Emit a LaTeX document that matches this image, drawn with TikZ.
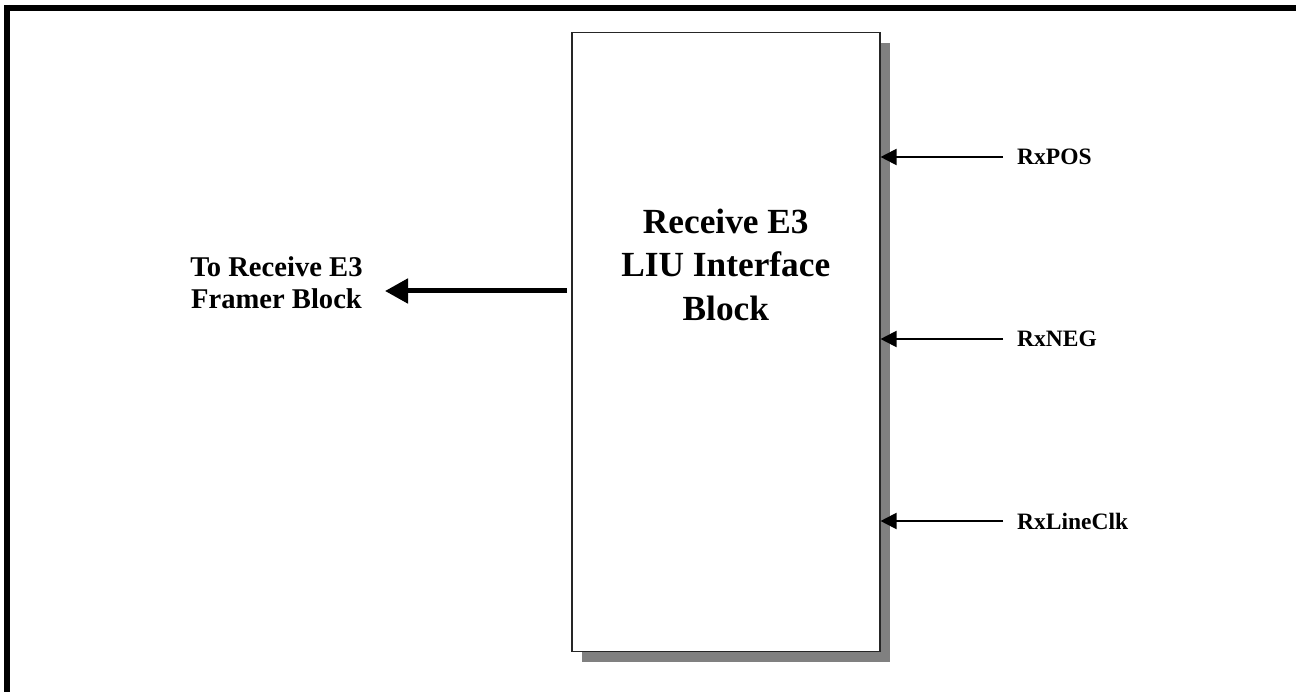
\documentclass[tikz,border=0pt]{standalone}
\usepackage{fontspec}
\setmainfont{Liberation Serif}
\usetikzlibrary{arrows.meta,shadows}
\begin{document}
\begin{tikzpicture}[x=1pt,y=-1pt,
  framebar/.style={line width=6pt,line cap=butt},
  mainbox/.style={draw=black!85,line width=1.5pt,fill=white,minimum width=308pt,minimum height=619pt,inner sep=0pt,
    drop shadow={shadow xshift=10pt,shadow yshift=-11pt,fill=black!50,opacity=1}},
  sig/.style={font=\fontsize{23.5}{27}\selectfont\bfseries,anchor=base west,inner sep=0pt},
  inarrow/.style={line width=2pt,-{Triangle[length=16pt,width=16pt]}},
  outarrow/.style={line width=5pt,-{Triangle[length=23pt,width=24pt]}}]
\useasboundingbox (0,0) rectangle (1296,692);
% frame (top and left edges)
\draw[framebar] (4,8) -- (1296,8);
\draw[framebar] (7,5) -- (7,692);
% main block
\node[mainbox] (box) at (725.8,341.8) {};
\node[align=center,inner sep=0pt,font=\fontsize{35.3}{43.5}\selectfont\bfseries] (title) at (725.8,264.8) {Receive E3\\LIU Interface\\Block};
% output
\node[align=center,inner sep=0pt,font=\fontsize{28.6}{32}\selectfont\bfseries] (out) at (276.5,282.5) {To Receive E3\\Framer Block};
\coordinate (bigstart) at (567,291);
\coordinate (bigend) at (385,291);
\draw[outarrow] (bigstart) -- (bigend);
% inputs
\node[sig] (pos) at (1017,165) {RxPOS};
\node[sig] (neg) at (1017,347) {RxNEG};
\node[sig] (clk) at (1017,529) {RxLineClk};
\coordinate (ps) at (1003,157);
\coordinate (ns) at (1003,339);
\coordinate (cs) at (1003,521);
\draw[inarrow] (ps) -- (ps -| box.east);
\draw[inarrow] (ns) -- (ns -| box.east);
\draw[inarrow] (cs) -- (cs -| box.east);
\end{tikzpicture}
\end{document}
